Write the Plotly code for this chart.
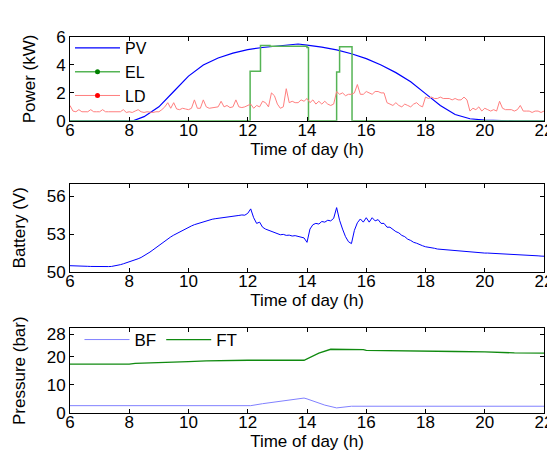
import numpy as np
import plotly.graph_objects as go

# ---------------- data ----------------
pv_t = [6.0, 6.5, 7.0, 7.5, 8.0, 8.15, 8.5, 9.0, 9.5, 10.0, 10.5, 11.0, 11.5, 12.0, 12.5, 13.0,
        13.5, 13.7, 14.0, 14.5, 15.0, 15.5, 16.0, 16.5, 17.0, 17.5, 18.0, 18.5, 19.0, 19.5,
        20.0, 20.5, 21.0, 21.5, 22.0]
pv = [0.0, 0.0, 0.0, 0.0, 0.0, 0.02, 0.3, 1.0, 2.1, 3.2, 4.0, 4.5, 4.85, 5.1, 5.25, 5.35,
      5.45, 5.5, 5.42, 5.28, 5.08, 4.8, 4.45, 4.0, 3.45, 2.8, 1.95, 1.1, 0.45, 0.15,
      0.05, 0.0, 0.0, 0.0, 0.0]

el_t = [6.0, 12.08, 12.43, 12.75, 14.0, 14.05, 15.0, 15.1, 15.52, 22.0]
el = [0.0, 3.55, 5.4, 5.33, 5.25, 0.0, 3.5, 5.3, 0.0, 0.0]

ld_t = [round(6.0 + 0.1 * i, 1) for i in range(161)]
ld = [1.1, 0.7, 0.65, 0.8, 0.65, 0.65, 0.65, 0.8, 0.65, 0.65,
      0.65, 0.8, 0.65, 0.65, 0.65, 0.65, 0.6, 0.65, 0.8, 0.6,
      0.65, 0.6, 0.7, 0.8, 0.65, 0.6, 0.65, 0.6, 0.6, 0.65,
      0.65, 0.8, 1.0, 1.3, 0.9, 1.3, 0.85, 0.8, 0.9, 0.85,
      0.8, 0.9, 1.5, 0.9, 0.9, 1.5, 1.0, 0.9, 0.95, 1.0,
      1.0, 1.4, 1.0, 1.1, 0.95, 1.0, 1.5, 1.0, 0.95, 1.0,
      1.1, 1.2, 0.9, 1.1, 1.0, 1.4, 1.3, 1.0, 2.0, 1.8,
      1.2, 0.9, 1.0, 2.3, 1.3, 1.4, 1.3, 1.3, 1.5, 1.4,
      1.6, 1.3, 1.5, 1.2, 1.4, 1.2, 1.4, 1.2, 1.1, 1.2,
      2.1, 1.9, 2.0, 1.8, 1.9, 1.9, 2.0, 2.6, 1.9, 1.9,
      2.1, 2.0, 1.9, 2.1, 2.1, 2.0, 2.0, 1.3, 1.2, 1.1,
      1.3, 1.1, 1.0, 1.2, 1.1, 1.0, 1.2, 1.3, 1.1, 1.0,
      1.7, 1.6, 1.7, 1.6, 1.6, 1.7, 1.6, 1.6, 1.6, 1.5,
      1.6, 1.5, 1.5, 1.7, 1.5, 0.7, 0.9, 0.8, 1.0, 0.7,
      0.9, 0.8, 0.7, 0.8, 0.7, 1.4, 0.9, 0.8, 0.8, 0.8,
      0.7, 0.8, 1.1, 0.7, 0.7, 0.7, 0.6, 0.7, 0.7, 0.6,
      0.7]

bat_t = [round(6.0 + 0.1 * i, 1) for i in range(161)]
bat = [50.50, 50.50, 50.48, 50.47, 50.46, 50.45, 50.45, 50.44, 50.43, 50.43,
       50.42, 50.42, 50.42, 50.43, 50.44, 50.47, 50.52, 50.58, 50.65, 50.72,
       50.80, 50.88, 50.96, 51.05, 51.15, 51.28, 51.42, 51.58, 51.75, 51.93,
       52.10, 52.28, 52.45, 52.62, 52.78, 52.92, 53.05, 53.18, 53.30, 53.42,
       53.55, 53.65, 53.75, 53.83, 53.92, 54.00, 54.07, 54.12, 54.18, 54.22,
       54.25, 54.30, 54.28, 54.35, 54.38, 54.42, 54.40, 54.48, 54.52, 54.50,
       54.65, 55.00, 54.30, 53.85, 53.95, 53.55, 53.40, 53.30, 53.20, 53.10,
       53.05, 52.95, 52.98, 52.90, 52.92, 52.85, 52.88, 52.80, 52.78, 52.70,
       52.35, 53.40, 53.75, 53.85, 53.80, 54.00, 53.95, 54.10, 54.05, 54.25,
       55.10, 54.10, 53.40, 52.80, 52.40, 52.25, 53.30, 53.90, 54.20, 53.95,
       54.30, 53.95, 54.30, 54.05, 54.15, 53.85, 53.85, 53.55, 53.55, 53.35,
       53.20, 53.10, 52.90, 52.80, 52.60, 52.50, 52.35, 52.28, 52.15, 52.08,
       52.00, 51.97, 51.90, 51.88, 51.82, 51.80, 51.75, 51.74, 51.70, 51.69,
       51.65, 51.64, 51.62, 51.61, 51.58, 51.58, 51.55, 51.55, 51.52, 51.52,
       51.50, 51.50, 51.49, 51.48, 51.47, 51.46, 51.45, 51.44, 51.43, 51.42,
       51.40, 51.39, 51.38, 51.37, 51.36, 51.34, 51.32, 51.30, 51.28, 51.26,
       51.25]

bf_t = [6.0, 12.1, 12.5, 13.0, 13.5, 13.9, 14.0, 14.3, 14.6, 15.0, 15.2, 15.5, 22.0]
bf = [2.6, 2.6, 3.3, 4.0, 4.7, 5.3, 5.0, 3.8, 2.8, 1.8, 2.0, 2.4, 2.4]

ft_t = [6.0, 8.0, 8.2, 9.0, 9.5, 10.0, 10.6, 11.0, 12.0, 13.9, 14.1, 14.4, 14.8, 15.5,
        15.9, 16.0, 17.0, 18.0, 19.0, 20.0, 20.5, 21.0, 22.0]
ft = [17.3, 17.3, 17.6, 17.8, 18.0, 18.2, 18.5, 18.6, 18.7, 18.7, 19.8, 21.2, 22.6, 22.6,
      22.5, 22.2, 22.0, 21.9, 21.8, 21.7, 21.5, 21.3, 21.2]

x_ticks = [6, 8, 10, 12, 14, 16, 18, 20, 22]

# ---------------- figure ----------------
FONT = "Liberation Sans, Arial, sans-serif"
fig = go.Figure()

fig.add_trace(go.Scatter(x=pv_t, y=pv, mode="lines", name="PV",
                         line=dict(color="#0000ff", width=1.2), xaxis="x", yaxis="y", legend="legend"))
fig.add_trace(go.Scatter(x=el_t, y=el, mode="lines", line_shape="hv", showlegend=False,
                         line=dict(color="#55b455", width=1.5), xaxis="x", yaxis="y"))
fig.add_trace(go.Scatter(x=ld_t, y=ld, mode="lines", showlegend=False,
                         line=dict(color="#ff7f7f", width=1), xaxis="x", yaxis="y"))
# legend entries with markers (MATLAB style)
fig.add_trace(go.Scatter(x=[None], y=[None], mode="lines+markers", name="EL",
                         line=dict(color="#55b455", width=1.5), marker=dict(color="#008000", size=5),
                         xaxis="x", yaxis="y", legend="legend"))
fig.add_trace(go.Scatter(x=[None], y=[None], mode="lines+markers", name="LD",
                         line=dict(color="#ff7f7f", width=1), marker=dict(color="#ff0000", size=5),
                         xaxis="x", yaxis="y", legend="legend"))

fig.add_trace(go.Scatter(x=bat_t, y=bat, mode="lines", showlegend=False,
                         line=dict(color="#0000ff", width=1), xaxis="x2", yaxis="y2"))

fig.add_trace(go.Scatter(x=bf_t, y=bf, mode="lines", name="BF",
                         line=dict(color="#8080ff", width=1), xaxis="x3", yaxis="y3", legend="legend2"))
fig.add_trace(go.Scatter(x=ft_t, y=ft, mode="lines", name="FT",
                         line=dict(color="#108a10", width=1.3), xaxis="x3", yaxis="y3", legend="legend2"))

TICKF = dict(size=17, color="black", family=FONT)
TITLEF = dict(size=17, color="black", family=FONT)

axis_common = dict(showgrid=False, zeroline=False, showline=True, mirror="ticks",
                   linecolor="black", linewidth=1, ticks="inside", ticklen=4,
                   tickcolor="black", tickfont=TICKF)

xcommon = dict(axis_common, range=[6, 22], tickvals=x_ticks, ticklabelstandoff=-6,
               title=dict(text="Time of day (h)", font=TITLEF, standoff=0))

fig.update_layout(
    width=555, height=455,
    margin=dict(l=62, r=10, t=29, b=50),
    paper_bgcolor="white", plot_bgcolor="white",
    font=dict(family=FONT, color="black"),
    xaxis=dict(xcommon, anchor="y"),
    yaxis=dict(axis_common, domain=[0.777, 1.0], range=[0, 6], tickvals=[0, 2, 4, 6],
               title=dict(text="Power (kW)", font=TITLEF, standoff=16)),
    xaxis2=dict(xcommon, anchor="y2"),
    yaxis2=dict(axis_common, domain=[0.375, 0.61], range=[50, 57], tickvals=[50, 53, 56],
                title=dict(text="Battery (V)", font=TITLEF, standoff=16)),
    xaxis3=dict(xcommon, anchor="y3"),
    yaxis3=dict(axis_common, domain=[0.0, 0.225], range=[0, 30], tickvals=[0, 10, 20, 28],
                title=dict(text="Pressure (bar)", font=TITLEF, standoff=16)),
    legend=dict(x=0.0, y=1.016, xref="paper", yref="paper", xanchor="left", yanchor="top",
                bgcolor="rgba(0,0,0,0)", borderwidth=0, itemwidth=45, tracegroupgap=0,
                font=dict(size=16, family=FONT, color="black")),
    legend2=dict(x=0.02, y=0.242, xref="paper", yref="paper", xanchor="left", yanchor="top",
                 orientation="h", bgcolor="rgba(0,0,0,0)", borderwidth=0, itemwidth=45,
                 font=dict(size=17, family=FONT, color="black")),
)

fig.write_html("out.html")
